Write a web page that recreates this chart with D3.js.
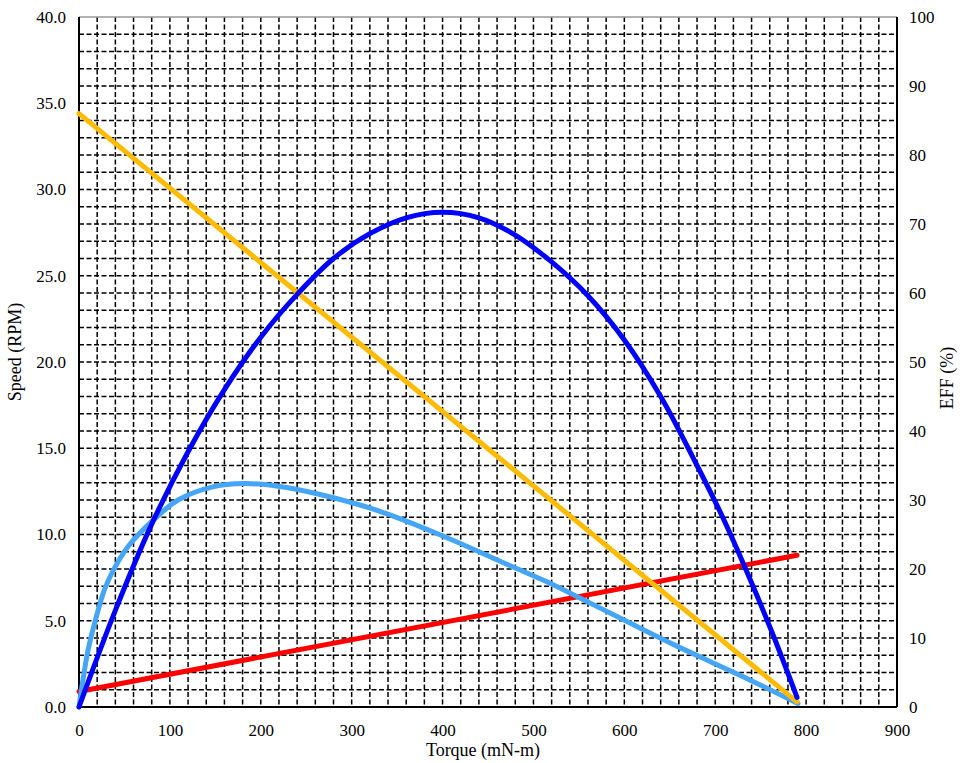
<!DOCTYPE html>
<html>
<head>
<meta charset="utf-8">
<script src="https://cdn.jsdelivr.net/npm/d3@7"></script>
<style>
  body { margin: 0; background: #fff; }
  svg text { font-family: 'Liberation Serif', 'DejaVu Serif', serif; fill: #000; }
</style>
</head>
<body>
<div id="chart"></div>
<script>
// torque (mN-m) on x
var torqueEff = [0, 40, 80, 120, 160, 200, 240, 280, 320, 360, 400, 440, 480, 520, 560, 600, 640, 680, 710, 740, 765, 790];
var eff =       [0, 14.0, 26.5, 37.0, 46.0, 53.6, 59.8, 65.0, 68.6, 70.9, 71.7, 70.9, 68.4, 64.5, 59.6, 53.2, 45.0, 35.0, 27.0, 18.0, 10.0, 1.4];

var torquePow = [0, 10, 21, 28, 36, 54, 81, 109, 146, 182, 219, 263, 328, 401, 474, 513, 550, 586, 622, 659, 696, 733, 791];
var power =     [0, 3.3, 5.6, 6.8, 7.75, 9.3, 10.8, 12.0, 12.75, 12.95, 12.8, 12.35, 11.4, 9.9, 8.2, 7.3, 6.35, 5.4, 4.45, 3.5, 2.6, 1.7, 0.2];

var torqueSpd = [0, 790];
var speed = [34.4, 0.3];

var torqueCur = [0, 790];
var current = [0.9, 8.8];

var xTicks = [0, 100, 200, 300, 400, 500, 600, 700, 800, 900];
var yTicks = [0, 5, 10, 15, 20, 25, 30, 35, 40];
var y2Ticks = [0, 10, 20, 30, 40, 50, 60, 70, 80, 90, 100];

var serif = "'Liberation Serif', 'DejaVu Serif', serif";

var margin = { top: 17, right: 67, bottom: 56, left: 79 },
    W = 964, H = 763,
    width = W - margin.left - margin.right,
    height = H - margin.top - margin.bottom;

var svg = d3.select("#chart").append("svg")
    .attr("width", W)
    .attr("height", H);

var g = svg.append("g")
    .attr("transform", "translate(" + margin.left + "," + margin.top + ")");

var x = d3.scaleLinear().domain([0, 900]).range([0, width]);
var y = d3.scaleLinear().domain([0, 40]).range([height, 0]);
var y2 = d3.scaleLinear().domain([0, 100]).range([height, 0]);

// dashed grid
g.append("g").selectAll("line")
    .data(d3.range(20, 900, 20))
    .enter().append("line")
    .attr("x1", function (d) { return x(d); })
    .attr("x2", function (d) { return x(d); })
    .attr("y1", 0).attr("y2", height)
    .attr("stroke", "#000").attr("stroke-width", 1.5)
    .attr("stroke-dasharray", "5,2.5");

g.append("g").selectAll("line")
    .data(d3.range(1, 40, 1))
    .enter().append("line")
    .attr("y1", function (d) { return y(d); })
    .attr("y2", function (d) { return y(d); })
    .attr("x1", 0).attr("x2", width)
    .attr("stroke", "#000").attr("stroke-width", 1.5)
    .attr("stroke-dasharray", "5,2.5");

// frame
g.append("line").attr("x1", 0).attr("x2", width).attr("y1", 0).attr("y2", 0)
    .attr("stroke", "#999").attr("stroke-width", 1.5);
g.append("line").attr("x1", 0).attr("x2", 0).attr("y1", 0).attr("y2", height)
    .attr("stroke", "#000").attr("stroke-width", 2);
g.append("line").attr("x1", width).attr("x2", width).attr("y1", 0).attr("y2", height)
    .attr("stroke", "#000").attr("stroke-width", 2);
g.append("line").attr("x1", 0).attr("x2", width).attr("y1", height).attr("y2", height)
    .attr("stroke", "#000").attr("stroke-width", 2);

// axes (labels only)
var axL = g.append("g").call(d3.axisLeft(y).tickValues(yTicks).tickFormat(d3.format(".1f")).tickSize(0).tickPadding(13));
var axR = g.append("g").attr("transform", "translate(" + width + ",0)")
    .call(d3.axisRight(y2).tickValues(y2Ticks).tickSize(0).tickPadding(12));
var axB = g.append("g").attr("transform", "translate(0," + height + ")")
    .call(d3.axisBottom(x).tickValues(xTicks).tickSize(0).tickPadding(17));
[axL, axR, axB].forEach(function (a) {
    a.attr("font-family", serif).attr("font-size", 17);
    a.select(".domain").remove();
    a.selectAll("text")
        .style("font-family", serif)
        .style("font-size", "17px")
        .attr("fill", "#000");
});

// curves
function draw(xs, ys, scaleY, color, curve) {
    var pts = xs.map(function (d, i) { return [d, ys[i]]; });
    g.append("path")
        .datum(pts)
        .attr("fill", "none")
        .attr("stroke", color)
        .attr("stroke-width", 5)
        .attr("stroke-linecap", "round")
        .attr("d", d3.line()
            .x(function (d) { return x(d[0]); })
            .y(function (d) { return scaleY(d[1]); })
            .curve(curve));
}
draw(torqueCur, current, y, "#ff0000", d3.curveLinear);
draw(torquePow, power, y, "#45a5f7", d3.curveCatmullRom.alpha(0.5));
draw(torqueSpd, speed, y, "#ffbb00", d3.curveLinear);
draw(torqueEff, eff, y2, "#0000ff", d3.curveCatmullRom.alpha(0.5));

// titles
svg.append("text")
    .attr("transform", "translate(21,352) rotate(-90)")
    .attr("text-anchor", "middle")
    .style("font-size", "18px")
    .text("Speed (RPM)");
svg.append("text")
    .attr("transform", "translate(953,378) rotate(-90)")
    .attr("text-anchor", "middle")
    .style("font-size", "18px")
    .text("EFF (%)");
svg.append("text")
    .attr("x", 483)
    .attr("y", 756)
    .attr("text-anchor", "middle")
    .style("font-size", "18px")
    .text("Torque (mN-m)");
</script>
</body>
</html>
